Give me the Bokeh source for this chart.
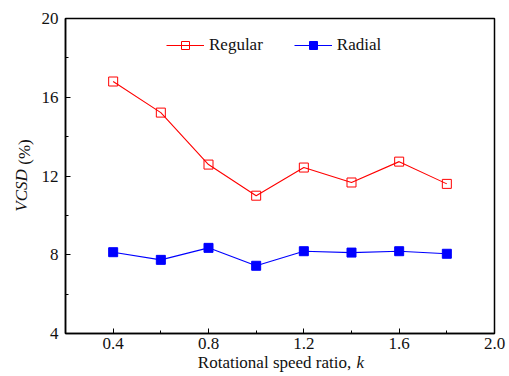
from bokeh.plotting import figure
from bokeh.models import FixedTicker, Label, Legend, LegendItem
from bokeh.embed import file_html
from bokeh.resources import INLINE

k = [0.4, 0.6, 0.8, 1.0, 1.2, 1.4, 1.6, 1.8]
regular = [16.8, 15.22, 12.58, 11.0, 12.43, 11.67, 12.73, 11.6]
radial = [8.13, 7.74, 8.35, 7.44, 8.18, 8.11, 8.18, 8.05]
x_ticks = [0.4, 0.8, 1.2, 1.6, 2.0]
x_tick_labels = ["0.4", "0.8", "1.2", "1.6", "2.0"]
x_minor = [0.6, 1.0, 1.4, 1.8]
y_ticks = [4, 8, 12, 16, 20]
y_minor = [6, 10, 14, 18]

FONT = "Liberation Serif"
FS = "17px"

p = figure(width=509, height=376, output_backend="svg", toolbar_location=None,
           x_range=(0.2, 2.0), y_range=(4, 20),
           min_border_left=65, min_border_right=15, min_border_top=18, min_border_bottom=43)
p.grid.visible = False
p.background_fill_color = "white"
p.border_fill_color = "white"
p.outline_line_color = "black"
p.outline_line_width = 1.5

for ax in (p.xaxis[0], p.yaxis[0]):
    ax.axis_line_width = 1.5
    ax.major_tick_in = 5
    ax.major_tick_out = 0
    ax.minor_tick_in = 3
    ax.minor_tick_out = 0
    ax.major_tick_line_width = 1
    ax.minor_tick_line_width = 1
    ax.major_label_text_font = FONT
    ax.major_label_text_font_size = FS
    ax.major_label_text_color = "#111111"

p.xaxis[0].ticker = FixedTicker(ticks=x_ticks, minor_ticks=x_minor)
p.xaxis[0].major_label_overrides = {t: s for t, s in zip(x_ticks, x_tick_labels)}
p.yaxis[0].ticker = FixedTicker(ticks=y_ticks, minor_ticks=y_minor)
p.xaxis[0].major_label_standoff = 4
p.yaxis[0].major_label_standoff = 7

r1 = p.line(k, regular, line_color="red", line_width=1.1)
m1 = p.scatter(k, regular, marker="square", size=9, fill_color=None, line_color="red", line_width=1)
r2 = p.line(k, radial, line_color="blue", line_width=1.1)
m2 = p.scatter(k, radial, marker="square", size=9, fill_color="blue", line_color="blue")

legend = Legend(items=[LegendItem(label="Regular", renderers=[r1, m1]),
                       LegendItem(label="Radial", renderers=[r2, m2])],
                orientation="horizontal", location=(101, 278),
                border_line_color=None, background_fill_alpha=0,
                label_text_font=FONT, label_text_font_size=FS, label_text_color="#111111",
                glyph_width=38, label_standoff=5, spacing=31, margin=0, padding=4)
p.add_layout(legend, "center")

# axis titles with mixed styles, placed in the side panels
common = dict(text_font=FONT, text_font_size=FS, text_color="#111111",
              text_baseline="middle", x_units="screen", y_units="screen")
p.add_layout(Label(x=290, y=8, text="Rotational speed ratio, ", text_align="right", **common), "below")
p.add_layout(Label(x=-138, y=-29, text="k", text_font_style="italic", text_align="left", **common), "right")
p.add_layout(Label(x=2, y=143, text="VCSD", text_font_style="italic",
                   angle=1.5708, text_align="center", **common), "left")
p.add_layout(Label(x=24, y=181.5, text="(%)", angle=1.5708, text_align="center", **common), "left")

open("out.html", "w").write(file_html(p, INLINE))
